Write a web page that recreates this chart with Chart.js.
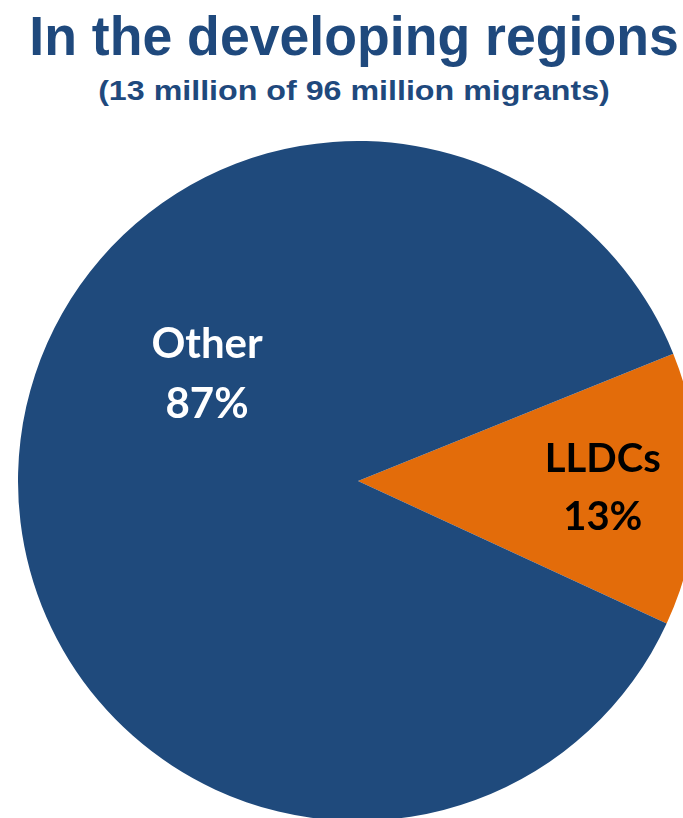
<!DOCTYPE html>
<html>
<head>
<meta charset="utf-8">
<script src="https://cdn.jsdelivr.net/npm/chart.js@4"></script>
<style>
  html, body { margin: 0; padding: 0; background: #ffffff; overflow: hidden; }
  #wrap { position: relative; width: 683px; height: 818px; overflow: hidden; background: #fff; }
  .hdr { position: absolute; white-space: nowrap; font-family: "Liberation Sans", Arial, sans-serif;
    font-weight: bold; color: #1F497D; }
  #title { left: 354px; top: 1px; font-size: 55px; line-height: 70px; transform: translateX(-50%) scaleX(0.975); }
  #sub { left: 354px; top: 71px; font-size: 28px; line-height: 40px; transform: translateX(-50%) scaleX(1.15); }
  #pieBox { position: absolute; left: 18px; top: 141px; width: 680px; height: 680px; }
</style>
</head>
<body>
<div id="wrap">
  <div id="title" class="hdr">In the developing regions</div>
  <div id="sub" class="hdr">(13 million of 96 million migrants)</div>
  <div id="pieBox"><canvas id="c" width="680" height="680"></canvas></div>
</div>
<script>
const categories = ['LLDCs', 'Other'];
const shares = [13, 87];
const percentLabels = ['13%', '87%'];

const labelPlugin = {
  id: 'sliceLabels',
  afterDatasetsDraw(chart) {
    const ctx = chart.ctx;
    const meta = chart.getDatasetMeta(0);
    const place = [
      { dx: 0.72, dy1: -0.026, dy2: 0.144, color: '#000000', size: 40 },
      { dx: -0.444, dy1: -0.362, dy2: -0.185, color: '#ffffff', size: 42 }
    ];
    meta.data.forEach((arc, i) => {
      const p = place[i];
      const R = arc.outerRadius;
      const x = arc.x + p.dx * R;
      ctx.save();
      ctx.font = 'bold ' + p.size + 'px Lato, "Open Sans", sans-serif';
      ctx.fillStyle = p.color;
      ctx.textAlign = 'center';
      ctx.textBaseline = 'alphabetic';
      ctx.fillText(chart.data.labels[i], x, arc.y + p.dy1 * R);
      ctx.fillText(percentLabels[i], x, arc.y + p.dy2 * R);
      ctx.restore();
    });
  }
};

new Chart(document.getElementById('c'), {
  type: 'pie',
  data: {
    labels: categories,
    datasets: [{
      data: shares,
      backgroundColor: ['#E36C0A', '#1F4A7C'],
      borderWidth: 0
    }]
  },
  options: {
    responsive: false,
    animation: false,
    rotation: 68,
    layout: { padding: 0 },
    plugins: { legend: { display: false }, tooltip: { enabled: false } }
  },
  plugins: [labelPlugin]
});
</script>
</body>
</html>
